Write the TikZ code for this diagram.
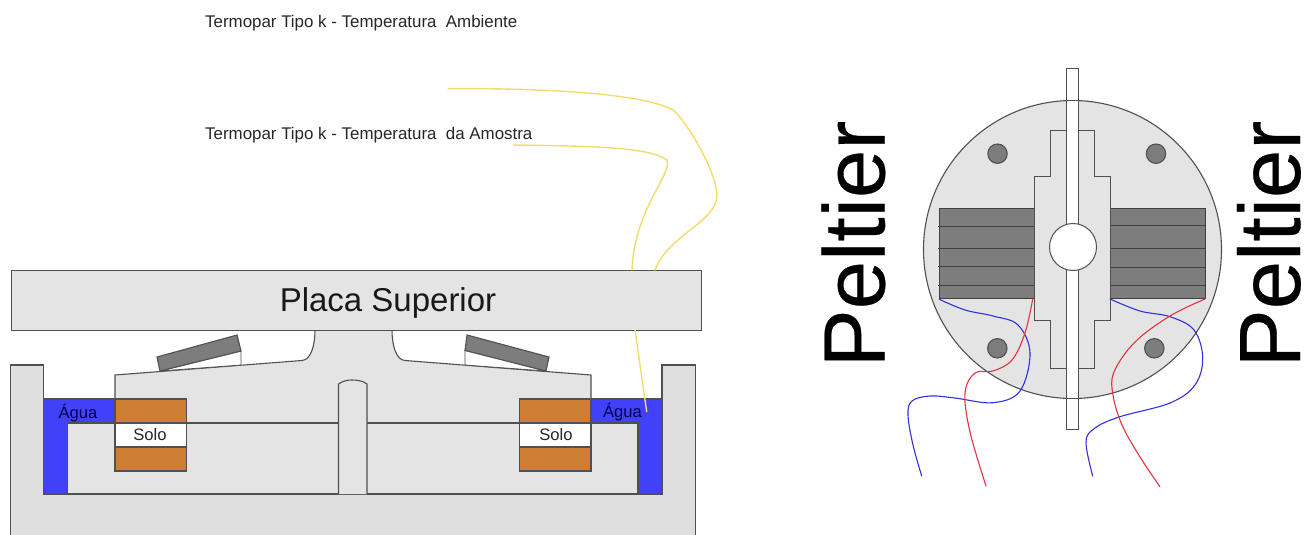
\documentclass[tikz,border=0pt]{standalone}
\usepackage{fontspec}
\setmainfont{Liberation Sans}
\newfontfamily\heavy[FakeBold=0.3]{Liberation Sans}
\definecolor{lg}{HTML}{E4E4E4}
\definecolor{lb}{HTML}{DFDFDF}
\definecolor{ln}{HTML}{505050}
\definecolor{dk}{HTML}{7D7D7D}
\definecolor{wat}{HTML}{4141FA}
\definecolor{soil}{HTML}{CC7F32}
\definecolor{yel}{HTML}{F3DC6C}
\definecolor{wb}{HTML}{3030E0}
\definecolor{wr}{HTML}{E8303E}
\tikzset{
  part/.style={draw=ln,line width=1.1pt,line join=miter},
  thin part/.style={draw=ln!80!black,line width=1pt},
  tc/.style={draw=yel,line width=1.4pt,line cap=round},
  bluewire/.style={draw=wb,line width=1.1pt,line cap=round},
  redwire/.style={draw=wr,line width=1.1pt,line cap=round},
  lab/.style={inner sep=0pt,text=black!85,font=\fontsize{16.9}{18}\selectfont},
  small/.style={inner sep=0pt,text=black!85,font=\fontsize{16.6}{18}\selectfont},
  pelt/.style={inner sep=0pt,rotate=90,anchor=base west,text=black,font=\heavy\fontsize{87}{90}\selectfont},
}
\begin{document}
\begin{tikzpicture}[x=1pt,y=-1pt]
\useasboundingbox (0,0) rectangle (1306,535);
% base
\path[fill=lb] (10.5,365) -- (43.5,365) -- (43.5,494) -- (662,494) -- (662,365) -- (695.5,365) -- (695.5,536) -- (10.5,536) -- cycle;
\draw[part] (10.5,536) -- (10.5,365) -- (43.5,365) -- (43.5,399);
\draw[part] (662,399) -- (662,365) -- (695.5,365) -- (695.5,536);
% body
\path[fill=lg] (115,399) -- (115,375) -- (302,360.5) .. controls (311,360) and (315,345) .. (315,330) -- (392,330) .. controls (392,345) and (396,360) .. (405,360.5) -- (591,375) -- (591,423) -- (638,423) -- (638,494) -- (67.5,494) -- (67.5,423) -- (115,423) -- cycle;
% water
\fill[wat] (43.5,399) -- (115,399) -- (115,423) -- (67.5,423) -- (67.5,494) -- (43.5,494) -- cycle;
\fill[wat] (662,399) -- (591,399) -- (591,423) -- (638,423) -- (638,494) -- (662,494) -- cycle;
\draw[part] (43.5,399) -- (115,399);
\draw[part] (591,399) -- (662,399);
\draw[part] (43.5,399) -- (43.5,494) -- (662,494) -- (662,399);
\draw[part] (67.5,494) -- (67.5,423) -- (638,423) -- (638,494);
\draw[part] (115,399) -- (115,375) -- (302,360.5) .. controls (311,360) and (315,345) .. (315,330);
\draw[part] (392,330) .. controls (392,345) and (396,360) .. (405,360.5) -- (591,375) -- (591,399);
% centre column
\path[fill=lg,part] (338.5,494) -- (338.5,384) .. controls (343,381) and (347,380) .. (352,380) .. controls (358,380) and (363,381) .. (367,384) -- (367,494);
% soil
\foreach \x in {115,519.5}{
  \path[fill=soil,part] (\x,399) rectangle ++(71.5,72);
  \path[fill=white,part] (\x,423) rectangle ++(71.5,24);
}
% wedges
\path[fill=white,draw=ln,line width=0.8pt] (160,371) -- (241,351) -- (241,365) -- cycle;
\path[fill=dk,part] (157,357) -- (237,335) -- (241,351) -- (160,371) -- cycle;
\path[fill=white,draw=ln,line width=0.8pt] (465,350) -- (465,365) -- (546,371) -- cycle;
\path[fill=dk,part] (467,335) -- (465,350.5) -- (546,371) -- (549,357) -- cycle;
% plate
\node[part,fill=lg,minimum width=690.5pt,minimum height=60pt,inner sep=0pt,anchor=north west] (plate) at (10.5,270) {};
\node[inner sep=0pt,font=\fontsize{33}{36}\selectfont,text=black!90] (plabel) at (388,303) {Placa Superior};
% labels
\node[lab,anchor=west] (t1) at (205,23) {Termopar Tipo k - Temperatura\ \ Ambiente};
\node[lab,anchor=west] (t2) at (205,135) {Termopar Tipo k - Temperatura\ \ da Amostra};
\node[small,text=black!70!blue] (a1) at (78,413.5) {Água};
\node[small,text=black!70!blue] (a2) at (622.5,412.5) {Água};
\node[small] (s1) at (150,434.5) {Solo};
\node[small] (s2) at (556,434.5) {Solo};
% thermocouples
\draw[tc] (448,88.7) .. controls (530,88) and (640,92) .. (673,110) .. controls (690,125) and (717,175) .. (717,195) .. controls (717,222) and (668,235) .. (655,270);
\draw[tc] (513,145) .. controls (590,146) and (650,147) .. (667,160) .. controls (672,175) and (634,210) .. (632,270);
\draw[tc] (635,330) -- (646.7,411.7);
% right figure: disc
\node[circle,part,fill=lg,minimum size=298pt,inner sep=0pt] (disc) at (1072.5,249.5) {};
\foreach \p/\q in {997.5/153.7,1156/153.7,997.3/348.3,1154.3/348.3}{
  \path[fill=dk,part] (\p,\q) circle (9.7);
}
% peltier stacks
\path[fill=dk,thin part] (939,208) rectangle (1034,298.7);
\path[fill=dk,thin part] (1110,208) rectangle (1205,298.7);
\foreach \y in {226.7,248,266,285.7}{ \draw[thin part] (938,\y) -- (1034,\y); }
\foreach \y in {225.7,248,267.7,285.7}{ \draw[thin part] (1110,\y) -- (1205,\y); }
% stepped block
\path[fill=lg,draw=ln,line width=1pt] (1050,130) -- (1094,130) -- (1094,176.5) -- (1110,176.5) -- (1110,320) -- (1094,320) -- (1094,368) -- (1050,368) -- (1050,320) -- (1034,320) -- (1034,176.5) -- (1050,176.5) -- cycle;
% bar and hole
\path[fill=white,draw=ln,line width=1pt] (1066,69) rectangle (1078.7,429);
\draw[draw=ln,line width=1pt] (1066,100.7) -- (1078.7,100.7) (1066,398) -- (1078.7,398);
\node[circle,fill=white,draw=ln,line width=1pt,minimum size=47pt,inner sep=0pt] (hole) at (1073,247) {};
% wires
\draw[bluewire] plot[smooth,tension=0.6] coordinates {(939.3,299.3) (965,310) (993,316) (1018,325) (1030,353) (1020,391) (993,402.7) (955,398) (930,396) (912,401) (908,415) (913,445) (921.7,476)};
\draw[redwire] plot[smooth,tension=0.6] coordinates {(1032.7,299) (1025,333) (1012,360) (993,371) (975,373) (965,393) (970,432) (986,486)};
\draw[bluewire] plot[smooth,tension=0.6] coordinates {(1110,299) (1140,311) (1170,316.7) (1194,330) (1202.7,358) (1195,385) (1170,403) (1120,416.7) (1095,428) (1086,442) (1092.7,476)};
\draw[redwire] plot[smooth,tension=0.6] coordinates {(1205,299) (1170,316) (1135,342) (1114,372) (1113,395) (1122,425) (1140,457) (1160,486.7)};
% Peltier labels
\node[pelt] (p1) at (884.5,367.5) {Peltier};
\node[pelt] (p2) at (1300,367.5) {Peltier};
\end{tikzpicture}
\end{document}
